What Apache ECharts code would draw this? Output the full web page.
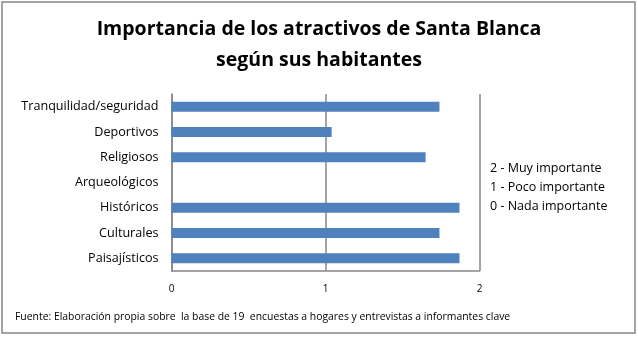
<!DOCTYPE html>
<html><head><meta charset="utf-8">
<script src="https://cdn.jsdelivr.net/npm/echarts@6/dist/echarts.min.js"></script>
<style>html,body{margin:0;padding:0;background:#fff}#c{width:638px;height:337px}</style>
</head><body><div id="c"></div>
<script>
const categories = ["Tranquilidad/seguridad","Deportivos","Religiosos","Arqueológicos","Históricos","Culturales","Paisajísticos"];
const values = [1.74, 1.04, 1.65, 0, 1.87, 1.74, 1.87];
const xTicks = [0, 1, 2];
const legendLines = ["2 - Muy importante","1 - Poco importante","0 - Nada importante"];
const titleText = "Importancia de los atractivos de Santa Blanca\nsegún sus habitantes";
const sourceText = "Fuente: Elaboración propia sobre  la base de 19  encuestas a hogares y entrevistas a informantes clave";

const font = "'Open Sans', 'Noto Sans', sans-serif";
const chart = echarts.init(document.getElementById('c'), null, {renderer:'canvas'});
chart.setOption({
  animation:false,
  backgroundColor:'#fff',
  title:{text:titleText,left:'center',top:9,textStyle:{fontFamily:font,fontSize:19.5,fontWeight:'bold',color:'#000',lineHeight:31}},
  grid:{left:171.5,right:158.5,top:94,bottom:66,containLabel:false},
  xAxis:{type:'value',min:xTicks[0],max:xTicks[xTicks.length-1],interval:1,
    axisLine:{show:true,lineStyle:{color:'#868686',width:1.5}},
    axisTick:{show:false},
    splitLine:{show:true,lineStyle:{color:'#868686',width:1.5}},
    axisLabel:{fontFamily:font,fontSize:10,color:'#000',margin:13}},
  yAxis:{type:'category',data:categories,inverse:true,
    axisLine:{show:true,lineStyle:{color:'#868686',width:1.5}},
    axisTick:{show:false},
    axisLabel:{fontFamily:font,fontSize:12.6,color:'#000',margin:13}},
  series:[{type:'bar',data:values,barWidth:10,itemStyle:{color:'#4F81BD'}}],
  graphic:[
    {type:'rect',shape:{x:2,y:2,width:633,height:331},style:{fill:'none',stroke:'#868686',lineWidth:1.5},silent:true},
    ...legendLines.map((t,i)=>({type:'text',left:490,top:162+i*19,style:{text:t,font:"12.5px "+font,fill:'#000'}})),
    {type:'text',left:15,top:312,style:{text:sourceText,font:"10.4px "+font,fill:'#000'}}
  ]
});
</script></body></html>
